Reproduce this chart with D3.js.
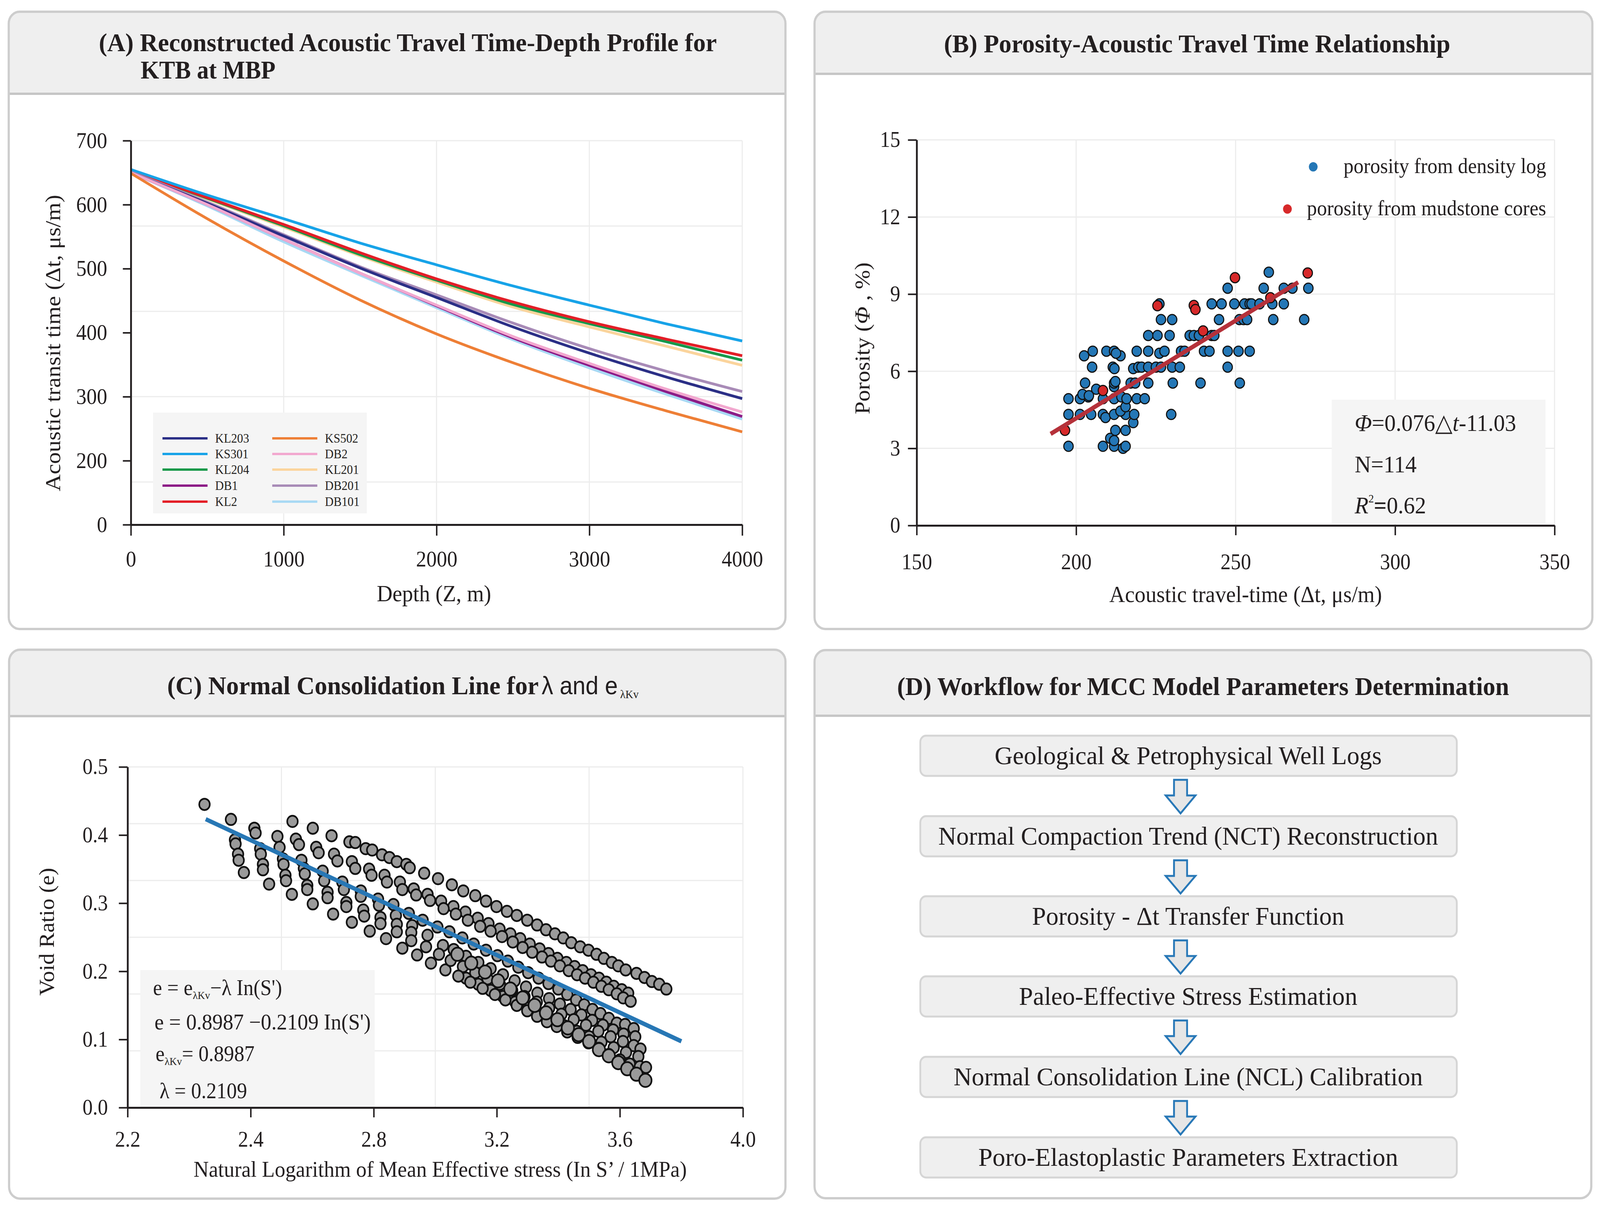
<!DOCTYPE html>
<html><head><meta charset="utf-8">
<script src="https://cdn.jsdelivr.net/npm/d3@7"></script>
<style>
html,body{margin:0;padding:0;background:#fff;overflow:hidden;width:100%;height:100%}
svg{display:block;width:100vw;height:100vh}
text{font-family:"Liberation Serif","Times New Roman",serif;fill:#231f20}
</style></head>
<body><svg id="c" viewBox="0 0 4402 3092" preserveAspectRatio="none" xmlns="http://www.w3.org/2000/svg"></svg>
<script>
// ---------------- DATA ----------------
// Panel A: depth (m) and reconstructed acoustic transit time (us/m)
const depth = [0,500,1000,1500,2000,2500,3000,3500,4000];
const KL203 = [650,602,551,501,455,409,368,331,297];
const KS301 = [655,615,578,540,506,473,443,414,387];
const KL204 = [653,610,567,522,482,444,414,386,357];
const DB1   = [650,600,546,493,442,392,349,308,269];
const KL2   = [653,611,569,525,484,448,417,390,364];
const KS502 = [649,578,512,451,398,353,313,278,245];
const DB2   = [650,600,546,493,443,394,352,312,276];
const KL201 = [652,609,565,520,479,440,409,379,349];
const DB201 = [651,604,553,503,459,415,375,340,308];
const DB101 = [650,598,542,490,439,389,345,304,265];
const wellNames = ["KL203","KS301","KL204","DB1","KL2","KS502","DB2","KL201","DB201","DB101"];
const aXTicks = [0,1000,2000,3000,4000];
const aYTickVals = [100,200,300,400,500,600,700];
const aYTickLabels = ["0","200","300","400","500","600","700"];
const aGridY = [700,566.7,433.3,300,166.7];

// Panel B: acoustic travel time (us/m) vs porosity (%)
const densityPts = [
[197.6,3.08],[208.4,3.08],[211.9,3.08],[214.7,3.0],[215.5,3.08],
[210.7,3.39],[211.9,3.3],[212.3,3.7],[215.5,3.7],[217.9,4.0],
[197.6,4.32],[201.2,4.32],[204.7,4.32],[208.4,4.32],[209.2,4.2],[211.9,4.32],[215.5,4.32],[218.2,4.32],[229.8,4.32],
[213.9,4.45],[215.5,4.62],
[197.6,4.93],[201.2,4.93],[203.8,5.0],[208.4,4.93],[211.9,4.93],[214.2,5.0],[215.8,4.93],[219.0,4.93],[221.5,4.93],
[202.0,5.1],[204.0,5.05],[206.3,5.3],[211.9,5.4],
[202.8,5.54],[211.9,5.54],[212.3,5.6],[217.1,5.54],[218.5,5.54],[222.6,5.54],[230.3,5.54],[239.0,5.54],[251.3,5.54],
[205.0,6.16],[211.5,6.16],[212.0,6.1],[217.9,6.1],[219.5,6.16],[220.5,6.16],[222.6,6.16],[225.0,6.16],[226.6,6.16],[230.1,6.16],[232.5,6.16],[247.5,6.16],
[202.5,6.6],[213.9,6.6],
[205.2,6.78],[209.5,6.78],[211.9,6.78],[212.5,6.7],[219.0,6.78],[222.6,6.78],[226.1,6.7],[227.7,6.78],[232.9,6.78],[234.0,6.78],[240.1,6.78],[241.8,6.78],[247.5,6.78],[250.9,6.78],[254.4,6.78],
[222.6,7.39],[225.5,7.39],[229.3,7.39],[235.6,7.39],[236.9,7.39],[238.5,7.39],[242.5,7.39],[243.3,7.39],
[226.6,8.01],[230.1,8.01],[244.8,8.01],[251.2,8.01],[252.5,8.01],[253.6,8.01],[261.8,8.01],[271.5,8.01],
[226.1,8.62],[242.5,8.62],[245.6,8.62],[249.6,8.62],[252.8,8.62],[254.4,8.62],[255.0,8.62],[257.5,8.62],[261.5,8.62],[265.1,8.62],
[247.5,9.23],[258.8,9.23],[265.1,9.23],[267.8,9.23],[272.8,9.23],
[260.4,9.85]
];
const corePts = [[196.5,3.7],[208.4,5.25],[225.5,8.55],[236.9,8.56],[237.4,8.4],[239.8,7.57],[249.8,9.64],[260.9,8.86],[272.6,9.82]];
const bFit = {slope:0.076, intercept:-11.03, from:192, to:269.6};
const bXTicks = [150,200,250,300,350];
const bYTicks = [0,3,6,9,12,15];

// Panel C: ln S' vs void ratio
const voidPts = [
[2.250,0.445],
[2.336,0.423],[2.349,0.393],[2.351,0.387],[2.359,0.372],[2.361,0.363],[2.378,0.345],
[2.412,0.410],[2.416,0.403],[2.431,0.380],[2.433,0.372],[2.440,0.357],[2.440,0.349],[2.460,0.328],
[2.487,0.398],[2.494,0.382],[2.505,0.365],[2.507,0.357],[2.513,0.341],[2.515,0.333],[2.534,0.313],
[2.565,0.363],[2.573,0.351],[2.576,0.343],[2.584,0.326],[2.584,0.320],[2.602,0.299],
[2.634,0.347],[2.639,0.333],[2.650,0.316],[2.650,0.308],[2.668,0.284],
[2.698,0.331],[2.703,0.320],[2.711,0.301],[2.711,0.295],[2.729,0.272],
[2.758,0.318],[2.758,0.310],[2.766,0.290],[2.769,0.281],[2.787,0.259],
[2.814,0.306],[2.817,0.297],[2.822,0.279],[2.822,0.270],[2.840,0.248],
[2.864,0.298],[2.872,0.282],[2.875,0.269],[2.875,0.258],[2.893,0.234],
[2.914,0.285],[2.925,0.267],[2.922,0.257],[2.922,0.245],[2.941,0.224],
[2.959,0.275],[2.975,0.253],[2.970,0.236],[2.986,0.212],
[3.007,0.265],[3.025,0.238],[3.012,0.225],[3.033,0.202],
// upper string
[2.536,0.420],[2.602,0.410],[2.663,0.399],[2.721,0.390],[2.740,0.389],[2.774,0.380],[2.795,0.378],[2.827,0.371],[2.851,0.367],[2.875,0.361],[2.906,0.357],[2.917,0.352],[2.964,0.344],
[3.009,0.336],[3.054,0.327],[3.091,0.318],[3.130,0.311],[3.165,0.303],[3.199,0.295],[3.233,0.288],[3.265,0.282],[3.299,0.275],[3.331,0.268],[3.360,0.261],[3.389,0.255],[3.416,0.249],[3.442,0.242],[3.471,0.236],[3.498,0.231],[3.524,0.225],[3.548,0.219],[3.574,0.213],[3.595,0.208],[3.619,0.202],[3.654,0.197],[3.680,0.191],[3.704,0.185],[3.728,0.181],[3.751,0.174],
// second string
[2.547,0.394],[2.557,0.386],[2.613,0.382],[2.621,0.374],[2.671,0.372],[2.682,0.362],[2.729,0.361],[2.740,0.351],[2.785,0.350],[2.793,0.341],[2.835,0.341],[2.843,0.331],[2.885,0.331],[2.893,0.320],[2.930,0.321],[2.938,0.312],[2.975,0.313],[2.983,0.304],
[3.019,0.303],[3.059,0.295],[3.098,0.287],[3.138,0.278],[3.173,0.270],[3.209,0.262],[3.244,0.255],[3.276,0.248],[3.307,0.240],[3.339,0.233],[3.368,0.226],[3.397,0.219],[3.426,0.213],[3.453,0.207],[3.479,0.201],[3.506,0.195],[3.532,0.190],[3.556,0.184],[3.580,0.178],[3.606,0.173],[3.627,0.168],
[3.027,0.292],[3.067,0.284],[3.106,0.275],[3.146,0.266],[3.180,0.259],[3.217,0.251],[3.252,0.243],[3.284,0.235],[3.315,0.228],[3.347,0.221],[3.376,0.215],[3.405,0.208],[3.434,0.201],[3.461,0.195],[3.487,0.190],[3.514,0.184],[3.540,0.178],[3.564,0.173],[3.590,0.167],[3.611,0.161],[3.635,0.156],
// lower bundle
[3.046,0.258],[3.088,0.249],[3.125,0.240],[3.165,0.231],[3.202,0.223],[3.236,0.215],[3.270,0.206],[3.302,0.198],[3.336,0.190],[3.368,0.182],[3.400,0.174],[3.429,0.166],[3.458,0.158],[3.484,0.151],[3.511,0.144],[3.537,0.138],[3.564,0.131],[3.590,0.124],[3.617,0.122],[3.645,0.116],
[3.060,0.232],[3.100,0.222],[3.140,0.213],[3.180,0.204],[3.220,0.195],[3.258,0.186],[3.295,0.177],[3.332,0.168],[3.370,0.160],[3.405,0.152],[3.440,0.144],[3.475,0.136],[3.510,0.128],[3.545,0.121],[3.578,0.114],[3.612,0.108],[3.650,0.104],
[3.050,0.216],[3.090,0.207],[3.130,0.198],[3.170,0.189],[3.210,0.181],[3.250,0.172],[3.290,0.163],[3.330,0.155],[3.370,0.146],[3.410,0.137],[3.450,0.129],[3.490,0.121],[3.530,0.112],[3.570,0.104],[3.610,0.097],[3.645,0.091],[3.667,0.086],
[3.100,0.190],[3.140,0.181],[3.180,0.172],[3.220,0.163],[3.260,0.155],[3.300,0.146],[3.340,0.137],[3.380,0.129],[3.420,0.120],[3.460,0.112],[3.500,0.104],[3.540,0.096],[3.580,0.088],[3.620,0.081],[3.660,0.075],
[3.075,0.193],[3.114,0.184],[3.154,0.175],[3.194,0.166],[3.228,0.158],[3.265,0.150],[3.299,0.142],[3.331,0.134],[3.363,0.126],[3.395,0.119],[3.429,0.111],[3.463,0.103],[3.498,0.095],[3.532,0.087],[3.564,0.078],[3.600,0.070],[3.632,0.064],[3.665,0.060],[3.685,0.059]
];
const voidPtsLarge = [[3.072,0.225],[3.117,0.212],[3.162,0.199],[3.204,0.186],[3.244,0.174],[3.284,0.161],[3.323,0.150],[3.360,0.139],[3.397,0.129],[3.431,0.117],[3.466,0.107],[3.500,0.097],[3.532,0.085],[3.564,0.076],[3.595,0.066],[3.624,0.057],[3.654,0.049],[3.683,0.040]];
const ncl = {e0:0.8987, lambda:0.2109, from:2.254, to:3.80};
const cXTickVals = [2.0,2.4,2.8,3.2,3.6,4.0];
const cXTickLabels = ["2.2","2.4","2.8","3.2","3.6","4.0"];
const cYTicks = [0,0.1,0.2,0.3,0.4,0.5];

// Panel D: workflow steps
const steps = ["Geological & Petrophysical Well Logs","Normal Compaction Trend (NCT) Reconstruction","Porosity - \u0394t Transfer Function","Paleo-Effective Stress Estimation","Normal Consolidation Line (NCL) Calibration","Poro-Elastoplastic Parameters Extraction"];

// ---------------- DRAW ----------------
const svg = d3.select("#c");
const INK = "#231f20";
svg.append("rect").attr("width",4402).attr("height",3092).attr("fill","#fff");
const defs = svg.append("defs");

function panel(id,x0,y0,x1,y1,hb){
  defs.append("clipPath").attr("id",id).append("rect")
    .attr("x",x0).attr("y",y0).attr("width",x1-x0).attr("height",y1-y0).attr("rx",30);
  svg.append("rect").attr("x",x0).attr("y",y0).attr("width",x1-x0).attr("height",y1-y0).attr("rx",30).attr("fill","#fff");
  svg.append("rect").attr("x",x0).attr("y",y0).attr("width",x1-x0).attr("height",hb-y0)
    .attr("fill","#efefef").attr("clip-path",`url(#${id})`);
  svg.append("line").attr("x1",x0).attr("x2",x1).attr("y1",hb).attr("y2",hb).attr("stroke","#c6c6c6").attr("stroke-width",6);
  svg.append("rect").attr("x",x0).attr("y",y0).attr("width",x1-x0).attr("height",y1-y0).attr("rx",30)
    .attr("fill","none").attr("stroke","#cdcdcd").attr("stroke-width",6);
}
panel("pA",24,30,2161,1610,240);
panel("pB",2241,30,4381,1610,189);
panel("pC",25,1663,2161,3068,1833);
panel("pD",2241,1664,4378,3067,1832);

function title(txt,x,y,len){
  return svg.append("text").attr("x",x).attr("y",y).attr("font-size",66).attr("font-weight","bold")
    .attr("textLength",len).attr("lengthAdjust","spacingAndGlyphs").text(txt);
}
title("(A) Reconstructed Acoustic Travel Time-Depth Profile for",272,131,1700);
title("KTB at MBP",387,201,371);
title("(B) Porosity-Acoustic Travel Time Relationship",2597,134,1393);
title("(C) Normal Consolidation Line for",460,1777,1022);
svg.append("text").attr("x",1490).attr("y",1777).attr("font-size",64)
  .style("font-family","'Liberation Sans',Arial,sans-serif").text("\u03bb and e");
svg.append("text").attr("x",1706).attr("y",1787).attr("font-size",30).text("\u03bbKv");
title("(D) Workflow for MCC Model Parameters Determination",2468,1779,1684);

function styleAxis(g,fs){
  g.attr("font-family",null).attr("font-size",null);
  g.select(".domain").attr("stroke",INK).attr("stroke-width",5);
  g.selectAll(".tick line").attr("stroke",INK).attr("stroke-width",4);
  g.selectAll(".tick text").attr("fill",INK).attr("font-size",fs)
    .style("font-family","'Liberation Serif','Times New Roman',serif");
}
function grid(g,xs,ys,sx,sy){
  g.selectAll(null).data(xs).join("line").attr("x1",d=>sx(d)).attr("x2",d=>sx(d))
    .attr("y1",sy.range()[0]).attr("y2",sy.range()[1]).attr("stroke","#ececec").attr("stroke-width",3);
  g.selectAll(null).data(ys).join("line").attr("y1",d=>sy(d)).attr("y2",d=>sy(d))
    .attr("x1",sx.range()[0]).attr("x2",sx.range()[1]).attr("stroke","#ececec").attr("stroke-width",3);
}

// ---- Panel A ----
const xA = d3.scaleLinear().domain([0,4000]).range([360,2042]);
const yA = d3.scaleLinear().domain([100,700]).range([1343,360]);
const gA = svg.append("g");
grid(gA,[1000,2000,3000,4000],aGridY,xA,yA);
const wellVals = {KL203,KS301,KL204,DB1,KL2,KS502,DB2,KL201,DB201,DB101};
const wellColor = {KL203:"#2b2f86",KS301:"#17a3e8",KL204:"#17994a",DB1:"#8d1c87",KL2:"#e31e27",
  KS502:"#ee7f36",DB2:"#f2a8cf",KL201:"#fbd49c",DB201:"#a88bb7",DB101:"#a8d9f4"};
const drawOrder = ["KL201","KL204","KL2","KS301","DB201","KL203","DB101","DB1","DB2","KS502"];
const lineA = d3.line().x((d,i)=>xA(depth[i])).y(d=>yA(d)).curve(d3.curveMonotoneX);
gA.selectAll("path.well").data(drawOrder).join("path").attr("class","well")
  .attr("d",n=>lineA(wellVals[n])).attr("fill","none").attr("stroke",n=>wellColor[n]).attr("stroke-width",7);
const axAx = gA.append("g").attr("transform",`translate(0,${yA(100)})`)
  .call(d3.axisBottom(xA).tickValues(aXTicks).tickFormat(d3.format("d")).tickSize(28).tickPadding(39).tickSizeOuter(0));
styleAxis(axAx,57);
const axAy = gA.append("g").attr("transform",`translate(${xA(0)},0)`)
  .call(d3.axisLeft(yA).tickValues(aYTickVals).tickFormat((d,i)=>aYTickLabels[i]).tickSize(22).tickPadding(43).tickSizeOuter(0));
styleAxis(axAy,57);
svg.append("text").attr("x",1194).attr("y",1539).attr("text-anchor","middle").attr("font-size",60).text("Depth (Z, m)");
svg.append("text").attr("transform","translate(165,878) rotate(-90)").attr("text-anchor","middle").attr("font-size",60)
  .text("Acoustic transit time (\u0394t, \u03bcs/m)");
const lg = svg.append("g");
lg.append("rect").attr("x",421).attr("y",1056).attr("width",588).attr("height",258).attr("fill","#f5f5f5");
const legRowY = [1122,1162,1202,1243,1284];
wellNames.forEach((n,i)=>{
  const col = Math.floor(i/5), row = i%5;
  const lx = col===0?447:749, tx = col===0?592:894;
  lg.append("line").attr("x1",lx).attr("x2",lx+124).attr("y1",legRowY[row]).attr("y2",legRowY[row])
    .attr("stroke",wellColor[n]).attr("stroke-width",6);
  lg.append("text").attr("x",tx).attr("y",legRowY[row]+11).attr("font-size",33).text(n);
});

// ---- Panel B ----
const xB = d3.scaleLinear().domain([150,350]).range([2522,4277]);
const yB = d3.scaleLinear().domain([0,15]).range([1345,358]);
const gB = svg.append("g");
grid(gB,[200,250,300,350],[3,6,9,12,15],xB,yB);
gB.append("rect").attr("x",3664).attr("y",1023).attr("width",588).attr("height",318).attr("fill","#f5f5f5");
gB.selectAll("circle.d").data(densityPts).join("circle").attr("class","d")
  .attr("cx",d=>xB(d[0])).attr("cy",d=>yB(d[1])).attr("r",13).attr("fill","#2477b6").attr("stroke","#111").attr("stroke-width",3);
gB.selectAll("circle.r").data(corePts).join("circle").attr("class","r")
  .attr("cx",d=>xB(d[0])).attr("cy",d=>yB(d[1])).attr("r",13).attr("fill","#d7292a").attr("stroke","#111").attr("stroke-width",3);
gB.append("line").attr("x1",xB(bFit.from)).attr("y1",yB(bFit.slope*bFit.from+bFit.intercept))
  .attr("x2",xB(bFit.to)).attr("y2",yB(bFit.slope*bFit.to+bFit.intercept))
  .attr("stroke","#b5313a").attr("stroke-width",11);
const axBx = gB.append("g").attr("transform",`translate(0,${yB(0)})`)
  .call(d3.axisBottom(xB).tickValues(bXTicks).tickSize(25).tickPadding(47).tickSizeOuter(0));
styleAxis(axBx,56);
const axBy = gB.append("g").attr("transform",`translate(${xB(150)},0)`)
  .call(d3.axisLeft(yB).tickValues(bYTicks).tickSize(24).tickPadding(21).tickSizeOuter(0));
styleAxis(axBy,56);
svg.append("text").attr("x",3427).attr("y",1541).attr("text-anchor","middle").attr("font-size",60)
  .text("Acoustic travel-time (\u0394t, \u03bcs/m)");
const byt = svg.append("text").attr("transform","translate(2392,866) rotate(-90)").attr("text-anchor","middle").attr("font-size",59);
byt.append("tspan").text("Porosity (");
byt.append("tspan").attr("font-style","italic").text("\u03a6");
byt.append("tspan").text(" , %)");
svg.append("circle").attr("cx",3613).attr("cy",427).attr("r",12).attr("fill","#2477b6");
svg.append("text").attr("x",4254).attr("y",443).attr("text-anchor","end").attr("font-size",55).text("porosity from density log");
svg.append("circle").attr("cx",3542).attr("cy",535).attr("r",12).attr("fill","#d7292a");
svg.append("text").attr("x",4254).attr("y",551).attr("text-anchor","end").attr("font-size",55).text("porosity from mudstone cores");
const e1 = svg.append("text").attr("x",3727).attr("y",1103).attr("font-size",62);
e1.append("tspan").attr("font-style","italic").text("\u03a6");
e1.append("tspan").text("=0.076\u25b3");
e1.append("tspan").attr("font-style","italic").text("t");
e1.append("tspan").text("-11.03");
svg.append("text").attr("x",3727).attr("y",1209).attr("font-size",62).text("N=114");
const e3 = svg.append("text").attr("x",3727).attr("y",1314).attr("font-size",62);
e3.append("tspan").attr("font-style","italic").text("R");
e3.append("tspan").attr("font-size",30).attr("dy",-28).text("2");
e3.append("tspan").attr("dy",28).attr("font-weight","bold").text("=");
e3.append("tspan").text("0.62");

// ---- Panel C ----
const xC = d3.scaleLinear().domain([2.0,4.0]).range([351,2044]);
const yC = d3.scaleLinear().domain([0,0.5]).range([2835,1963]);
const gC = svg.append("g");
grid(gC,[2.5,3.0,3.5,4.0],[0.5/6,1/6,0.25,2/6,2.5/6,0.5],xC,yC);
gC.append("rect").attr("x",386).attr("y",2483).attr("width",645).attr("height",351).attr("fill","#f5f5f5");
gC.selectAll("circle.v").data(voidPts).join("circle").attr("class","v")
  .attr("cx",d=>xC(d[0])).attr("cy",d=>yC(d[1])).attr("r",14.5).attr("fill","#9a9a9a").attr("stroke","#111").attr("stroke-width",4.5);
gC.selectAll("circle.vl").data(voidPtsLarge).join("circle").attr("class","vl")
  .attr("cx",d=>xC(d[0])).attr("cy",d=>yC(d[1])).attr("r",17).attr("fill","#9a9a9a").attr("stroke","#111").attr("stroke-width",4.5);
gC.append("line").attr("x1",xC(ncl.from)).attr("y1",yC(ncl.e0-ncl.lambda*ncl.from))
  .attr("x2",xC(ncl.to)).attr("y2",yC(ncl.e0-ncl.lambda*ncl.to)).attr("stroke","#2777b5").attr("stroke-width",11);
const axCx = gC.append("g").attr("transform",`translate(0,${yC(0)})`)
  .call(d3.axisBottom(xC).tickValues(cXTickVals).tickFormat((d,i)=>cXTickLabels[i]).tickSize(25).tickPadding(35).tickSizeOuter(0));
styleAxis(axCx,56);
const axCy = gC.append("g").attr("transform",`translate(${xC(2.0)},0)`)
  .call(d3.axisLeft(yC).tickValues(cYTicks).tickFormat(d3.format(".1f")).tickSize(24).tickPadding(30).tickSizeOuter(0));
styleAxis(axCy,56);
svg.append("text").attr("x",1211).attr("y",3012).attr("text-anchor","middle").attr("font-size",58)
  .attr("textLength",1357).attr("lengthAdjust","spacingAndGlyphs")
  .text("Natural Logarithm of Mean Effective stress (In S\u2019 / 1MPa)");
svg.append("text").attr("transform","translate(148,2385) rotate(-90)").attr("text-anchor","middle").attr("font-size",58)
  .text("Void Ratio (e)");
const c1 = svg.append("text").attr("x",421).attr("y",2547).attr("font-size",56);
c1.append("tspan").text("e = e");
c1.append("tspan").attr("font-size",28).attr("dy",10).text("\u03bbKv");
c1.append("tspan").attr("dy",-10).text("\u2212\u03bb In(S')");
svg.append("text").attr("x",425).attr("y",2635).attr("font-size",56).attr("textLength",595).attr("lengthAdjust","spacingAndGlyphs")
  .text("e = 0.8987 \u22120.2109 In(S')");
const c3 = svg.append("text").attr("x",428).attr("y",2716).attr("font-size",56);
c3.append("tspan").text("e");
c3.append("tspan").attr("font-size",28).attr("dy",10).text("\u03bbKv");
c3.append("tspan").attr("dy",-10).text("= 0.8987");
svg.append("text").attr("x",439).attr("y",2811).attr("font-size",56).text("\u03bb = 0.2109");

// ---- Panel D ----
const boxTop = [1883,2089,2294,2499,2705,2911];
const stepLen = [1065,1375,859,931,1291,1155];
const gD = svg.append("g");
steps.forEach((s,i)=>{
  gD.append("rect").attr("x",2532).attr("y",boxTop[i]).attr("width",1476).attr("height",103).attr("rx",16)
    .attr("fill","#efefef").attr("stroke","#d5d5d5").attr("stroke-width",5);
  gD.append("text").attr("x",3269).attr("y",boxTop[i]+73).attr("text-anchor","middle").attr("font-size",66)
    .attr("textLength",stepLen[i]).attr("lengthAdjust","spacingAndGlyphs").text(s);
  if(i<steps.length-1){
    const cx=3248, y0=boxTop[i]+113, y1=y0+40, y2=boxTop[i+1]-7;
    gD.append("path").attr("d",`M${cx-18},${y0}L${cx+18},${y0}L${cx+18},${y1}L${cx+41},${y1}L${cx},${y2}L${cx-41},${y1}L${cx-18},${y1}Z`)
      .attr("fill","#e6e6e6").attr("stroke","#2878b7").attr("stroke-width",5).attr("stroke-linejoin","miter");
  }
});
</script></body></html>
